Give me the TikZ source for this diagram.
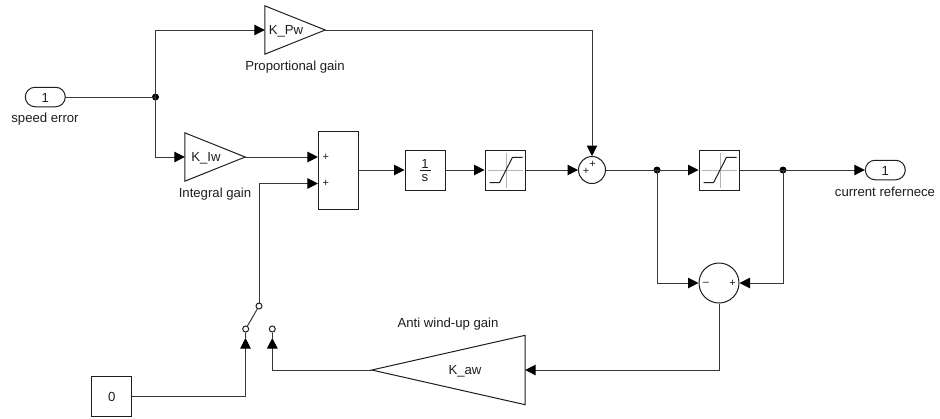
\documentclass[tikz,border=0pt]{standalone}
\usepackage{fontspec}
\setmainfont{Liberation Sans}
\usetikzlibrary{arrows.meta,shapes.misc}
\definecolor{wirec}{HTML}{383838}
\definecolor{edgec}{HTML}{1E1E1E}
\definecolor{crossc}{HTML}{B4B4B4}
\tikzset{
  txt/.style={inner sep=0pt,font=\fontsize{13.2}{13.2}\selectfont,text=edgec},
  sgn/.style={inner sep=0pt,font=\fontsize{11}{11}\selectfont,text=edgec},
  wire/.style={draw=wirec,line width=1bp,-{Triangle[length=10.5bp,width=10.5bp,color=black]}},
  plainwire/.style={draw=wirec,line width=1bp},
  blockbox/.style={draw=edgec,line width=1bp,fill=white,inner sep=0pt,minimum width=40bp,minimum height=40bp,rectangle},
  sumc/.style={draw=edgec,line width=1bp,fill=white,inner sep=0pt,circle},
  port/.style={draw=edgec,line width=1bp,fill=white,inner sep=0pt,rounded rectangle,minimum width=40bp,minimum height=19.5bp},
  gainframe/.style={inner sep=0pt,rectangle},
  tri/.style={draw=edgec,line width=1bp,fill=white,line join=miter},
  dot/.style={circle,fill=black,inner sep=0pt,minimum size=7bp},
  contact/.style={circle,draw=edgec,line width=1bp,fill=white,inner sep=0pt,minimum size=6bp},
}
\newcommand{\saticon}[1]{%
  \draw[crossc,line width=1bp] ([xshift=-17bp]#1.center) -- ([xshift=18bp]#1.center);
  \draw[crossc,line width=1bp] ([xshift=1bp,yshift=17bp]#1.center) -- ([xshift=1bp,yshift=-18bp]#1.center);
  \draw[edgec,line width=1bp] ([xshift=-15.5bp,yshift=-12.7bp]#1.center) -- ([xshift=-5.5bp,yshift=-12.7bp]#1.center) -- ([xshift=7.5bp,yshift=12.7bp]#1.center) -- ([xshift=17.5bp,yshift=12.7bp]#1.center);
}
\begin{document}
\begin{tikzpicture}[x=1bp,y=-1bp]
\useasboundingbox (0,0) rectangle (940,418);
\fill[white] (0,0) rectangle (940,418);

% blocks
\node[port] (inp) at (45.3,97) {};
\node[txt] at (45.3,97.5) {1};
\node[txt] (inlab) at (45,119.5) {speed error};
\node[port] (outp) at (885.3,170) {};
\node[txt] at (885.3,170.5) {1};
\node[txt] (outlab) at (885,192) {current refernece};

\node[gainframe,minimum width=60bp,minimum height=48bp] (kp) at (295,30) {};
\node[gainframe,minimum width=60bp,minimum height=48bp] (ki) at (215,157) {};
\node[gainframe,minimum width=153bp,minimum height=69bp] (ka) at (448.5,370) {};
\draw[tri] (kp.north west) -- (kp.east) -- (kp.south west) -- cycle;
\draw[tri] (ki.north west) -- (ki.east) -- (ki.south west) -- cycle;
\draw[tri] (ka.north east) -- (ka.west) -- (ka.south east) -- cycle;
\node[txt] (kpt) at (286,31) {K\_Pw};
\node[txt] (kit) at (206,158) {K\_Iw};
\node[txt] (kat) at (465,371) {K\_aw};
\node[txt] (kpl) at (295,67) {Proportional gain};
\node[txt] (kil) at (215,194) {Integral gain};
\node[txt] (kal) at (448,324.5) {Anti wind-up gain};

\node[blockbox,minimum width=40.5bp,minimum height=78bp] (add) at (338.7,170) {};
\node[sgn] at (325.7,157) {+};
\node[sgn] at (325.7,183.5) {+};
\node[blockbox] (int) at (425,170) {};
\node[txt] (one) at (425,164) {1};
\node[txt] (ess) at (425,178) {s};
\draw[edgec,line width=0.9bp] (419.5,170.5) -- (430.5,170.5);
\node[blockbox] (sat1) at (505,170) {};
\saticon{sat1}
\node[blockbox] (sat2) at (719,170) {};
\saticon{sat2}
\node[sumc,minimum size=27bp] (sum1) at (592,170) {};
\node[sgn] at (586,171) {+};
\node[sgn] at (592.5,164) {+};
\node[sumc,minimum size=40bp] (sum2) at (719,283) {};
\node[sgn] at (706,283.5) {\char"2013};
\node[sgn] at (732.5,283.5) {+};
\node[blockbox] (zero) at (111.7,396.7) {};
\node[txt] at (111.7,397.2) {0};

% junctions
\node[dot] (j1) at (155.5,97) {};
\node[dot] (j2) at (657,170) {};
\node[dot] (j3) at (783,170) {};

% switch
\node[contact] (swc) at (259,306) {};
\node[contact] (swa) at (245.7,329) {};
\node[contact] (swb) at (272.3,329) {};
\coordinate (taila) at (245.5,338);
\coordinate (tailb) at (272.3,338);
\draw[plainwire] (swa) -- (taila);
\draw[plainwire] (swb) -- (tailb);
\draw[plainwire] (swc) -- (swa);

% connectors
\draw[plainwire] (inp.east) -- (j1.center);
\draw[wire] (j1.center) |- (kp.west);
\draw[wire] (j1.center) |- (ki.west);
\draw[wire] (ki.east) -- (ki.east -| add.west);
\draw[wire] (swc.north) |- (add.west |- 0,183.5);
\draw[wire] (add.east) -- (int.west);
\draw[wire] (int.east) -- (sat1.west);
\draw[wire] (sat1.east) -- (sum1.west);
\draw[wire] (kp.east) -| (sum1.north);
\draw[wire] (sum1.east) -- (sat2.west);
\draw[wire] (sat2.east) -- (outp.west);
\draw[wire] (j2.center) |- (sum2.west);
\draw[wire] (j3.center) |- (sum2.east);
\draw[wire] (sum2.south) |- (ka.east);
\draw[wire] (ka.west) -| (tailb);
\draw[wire] (zero.east) -| (taila);
\end{tikzpicture}
\end{document}
